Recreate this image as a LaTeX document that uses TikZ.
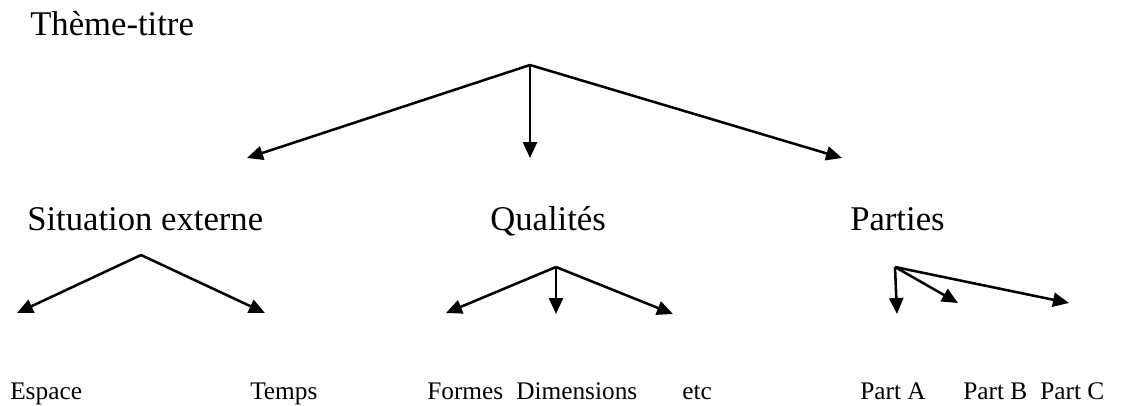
\documentclass[tikz,border=0pt]{standalone}
\usepackage{fontspec}
\setmainfont{Liberation Serif}
\usetikzlibrary{arrows.meta}
\begin{document}
\begin{tikzpicture}[x=0.75pt,y=-0.75pt,
  big/.style={anchor=base west,inner sep=0pt,font=\fontsize{26}{31}\selectfont},
  small/.style={anchor=base west,inner sep=0pt,font=\fontsize{19}{23}\selectfont},
  arr/.style={line width=1.9pt,-{Triangle[length=12pt,width=10.5pt]}}]
\useasboundingbox (0,0) rectangle (1133,405);
% labels
\node[big] (titre) at (30,35) {Thème-titre};
\node[big] (sit) at (27,230) {Situation externe};
\node[big] (qual) at (490,230) {Qualités};
\node[big] (part) at (850,230) {Parties};
\node[small] (esp) at (10,399) {Espace};
\node[small] (temps) at (250,399) {Temps};
\node[small] (formes) at (427,399) {Formes};
\node[small] (dim) at (516,399) {Dimensions};
\node[small] (etc) at (682,399) {etc};
\node[small] (pa) at (860,399) {Part A};
\node[small] (pb) at (963,399) {Part B};
\node[small] (pc) at (1040,399) {Part C};
% apexes and tips
\coordinate (top) at (530,65);
\coordinate (t1) at (247,158);
\coordinate (t2) at (530,158);
\coordinate (t3) at (842,158);
\coordinate (sa) at (141,255);
\coordinate (s1) at (17,313);
\coordinate (s2) at (265,313);
\coordinate (qa) at (556,267);
\coordinate (q1) at (446,313);
\coordinate (q2) at (556,314);
\coordinate (q3) at (673,314);
\coordinate (pa0) at (895,267);
\coordinate (p1) at (897,314);
\coordinate (p2) at (958,303);
\coordinate (p3) at (1069,303);
% arrows
\draw[arr] (top) -- (t1);
\draw[arr] (top) -- (t2);
\draw[arr] (top) -- (t3);
\draw[arr] (sa) -- (s1);
\draw[arr] (sa) -- (s2);
\draw[arr] (qa) -- (q1);
\draw[arr] (qa) -- (q2);
\draw[arr] (qa) -- (q3);
\draw[arr] (pa0) -- (p1);
\draw[arr] (pa0) -- (p2);
\draw[arr] (pa0) -- (p3);
\end{tikzpicture}
\end{document}
